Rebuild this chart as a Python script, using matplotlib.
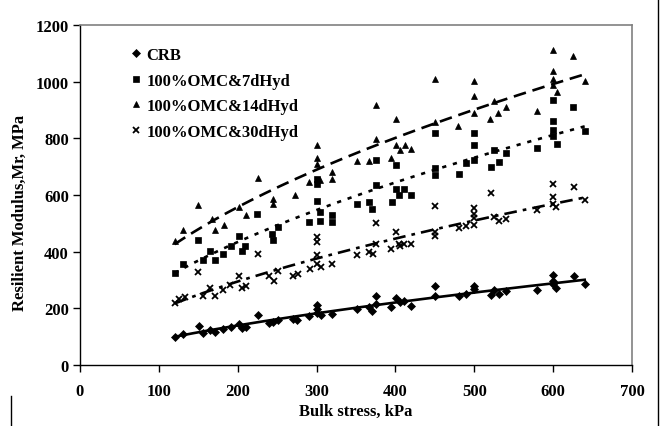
import numpy as np
import matplotlib
matplotlib.use("Agg")
import matplotlib.pyplot as plt
from matplotlib.lines import Line2D

plt.rcParams['font.family'] = ['Liberation Serif', 'DejaVu Serif']
plt.rcParams['font.weight'] = 'bold'

# ---- data ----
crb_x = [120, 131, 151, 156, 165, 171, 181, 191, 201, 206, 211, 226, 240, 245, 251,
         270, 275, 291, 301, 301, 301, 306, 320, 351, 366, 370, 375, 375, 395, 401,
         406, 411, 420, 450, 450, 480, 490, 500, 500, 521, 525, 531, 540, 580, 600,
         600, 600, 604, 626, 640]
crb_y = [100, 110, 137, 112, 125, 116, 127, 133, 145, 130, 135, 177, 148, 152, 160,
         163, 160, 172, 212, 198, 184, 178, 180, 198, 203, 191, 245, 216, 204, 236,
         222, 227, 210, 278, 243, 243, 251, 278, 267, 247, 265, 250, 262, 266, 316,
         297, 285, 271, 314, 286]

h7_x = [120, 131, 150, 156, 165, 171, 181, 191, 206, 209, 201, 225, 243, 245, 251,
        291, 301, 301, 301, 304, 304, 320, 320, 351, 366, 370, 375, 375, 396, 401,
        405, 411, 420, 401, 450, 450, 450, 480, 489, 500, 500, 500, 521, 531, 525,
        540, 580, 600, 600, 600, 600, 605, 625, 640]
h7_y = [325, 357, 440, 372, 401, 372, 392, 419, 401, 419, 455, 534, 463, 440, 487,
        505, 655, 640, 578, 540, 510, 528, 505, 569, 575, 552, 722, 636, 577, 622,
        599, 622, 599, 707, 820, 695, 669, 675, 714, 819, 778, 722, 699, 716, 758,
        750, 766, 935, 860, 828, 808, 781, 911, 825]

h14_x = [120, 131, 150, 167, 171, 182, 201, 211, 226, 245, 245, 273, 291, 301, 301,
         301, 304, 320, 320, 351, 366, 375, 375, 395, 401, 401, 412, 406, 420, 450,
         450, 479, 500, 500, 500, 520, 525, 530, 540, 580, 600, 600, 600, 600, 605,
         625, 640]
h14_y = [436, 475, 563, 516, 475, 495, 557, 530, 660, 585, 570, 599, 646, 776, 731,
         711, 652, 681, 658, 719, 719, 917, 797, 731, 870, 778, 778, 758, 761, 1011,
         858, 842, 1003, 950, 888, 870, 931, 888, 911, 896, 1111, 1038, 1008, 988, 964,
         1091, 1002]

h30_x = [120, 125, 133, 150, 156, 165, 171, 181, 190, 201, 206, 211, 226, 240, 246,
         251, 270, 277, 292, 301, 301, 301, 301, 306, 320, 351, 366, 371, 375, 375,
         395, 401, 404, 406, 411, 420, 450, 450, 450, 480, 490, 500, 500, 500, 500,
         521, 525, 531, 540, 580, 600, 600, 600, 604, 626, 640]
h30_y = [219, 233, 239, 328, 245, 271, 243, 263, 283, 314, 271, 280, 392, 314, 298,
         333, 314, 322, 339, 451, 434, 389, 357, 345, 357, 389, 398, 392, 502, 428,
         410, 471, 428, 420, 428, 428, 561, 471, 457, 483, 490, 554, 534, 519, 495,
         608, 522, 507, 516, 546, 640, 593, 570, 558, 628, 581]

labels = ['CRB', '100%OMC&7dHyd', '100%OMC&14dHyd', '100%OMC&30dHyd']
x_ticks = [0, 100, 200, 300, 400, 500, 600, 700]
y_ticks = [0, 200, 400, 600, 800, 1000, 1200]

# ---- figure ----
fig = plt.figure(figsize=(6.61, 4.27), dpi=100)
ax = fig.add_axes([80/661, 61/427, 552/661, 340/427])

series = [
    (crb_x, crb_y, 'D', 3.6, '-'),
    (h7_x, h7_y, 's', 4.3, (0, (1.6, 2.6))),
    (h14_x, h14_y, '^', 5.0, (0, (4.8, 2.6))),
    (h30_x, h30_y, 'x', 4.3, (0, (4.8, 2.3, 1.4, 2.3))),
]

for (xs, ys, mk, ms, ls), lab in zip(series, labels):
    xs = np.asarray(xs, float); ys = np.asarray(ys, float)
    mew = 1.3 if mk == 'x' else 0.5
    ax.plot(xs, ys, linestyle='none', marker=mk, markersize=ms, color='black',
            markeredgewidth=mew, label=lab)
    b, a = np.polyfit(np.log(xs), np.log(ys), 1)
    xx = np.linspace(xs.min(), xs.max(), 200)
    ax.plot(xx, np.exp(a) * xx ** b, color='black', linewidth=1.9, linestyle=ls)

ax.set_xlim(0, 700)
ax.set_ylim(0, 1200)
ax.set_xticks(x_ticks)
ax.set_yticks(y_ticks)
ax.tick_params(direction='out', length=5, width=1, labelsize=12, colors='black')
for lbl in ax.get_xticklabels() + ax.get_yticklabels():
    lbl.set_fontweight('bold')
ax.tick_params(axis='x', pad=8)
ax.tick_params(axis='y', pad=3)
for s in ['top', 'right']:
    ax.spines[s].set_color('#808080')
    ax.spines[s].set_linewidth(1.2)
for s in ['left', 'bottom']:
    ax.spines[s].set_color('black')
    ax.spines[s].set_linewidth(1.0)

ax.set_xlabel('Bulk stress, kPa', fontsize=12, fontweight='bold', labelpad=3)
ax.set_ylabel('Resilient Modulus,Mr, MPa', fontsize=12, fontweight='bold')
ax.yaxis.set_label_coords(-0.095, 0.45)

leg = ax.legend(loc='upper left', bbox_to_anchor=(0.075, 0.955), frameon=False,
                fontsize=12, handletextpad=0.1, labelspacing=0.58,
                handlelength=1.0, borderaxespad=0)
for t in leg.get_texts():
    t.set_fontweight('bold')

# outer frame pieces
fig.add_artist(Line2D([658/661, 658/661], [0, 1], transform=fig.transFigure,
                      color='black', linewidth=1.0))
fig.add_artist(Line2D([11/661, 11/661], [0, 30/427], transform=fig.transFigure,
                      color='black', linewidth=1.0))

fig.savefig('out.png', dpi=100)
